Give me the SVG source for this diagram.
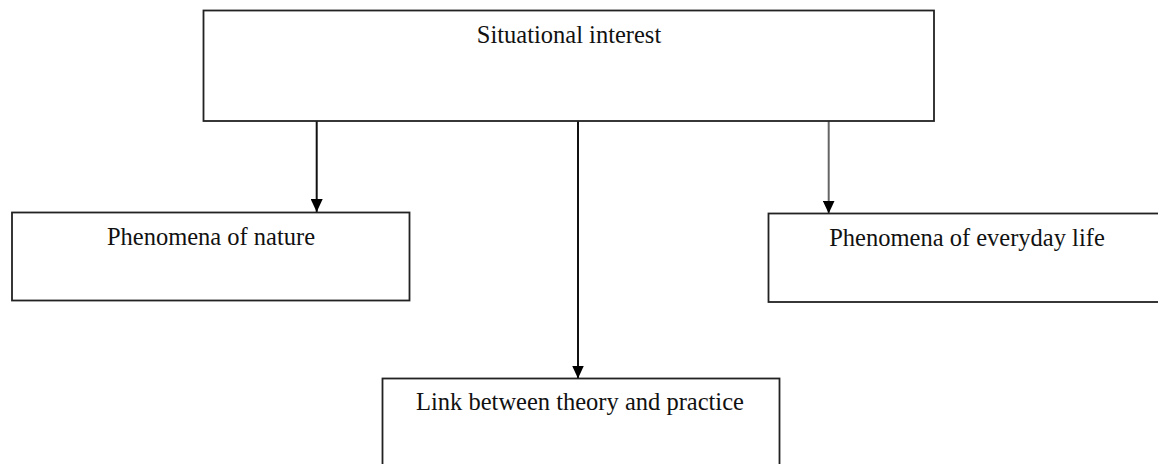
<svg xmlns="http://www.w3.org/2000/svg" width="1158" height="464" viewBox="0 0 1158 464">
<style>
.box{fill:#fff;stroke:#222;stroke-width:1.8}
.lbl{font-family:"Liberation Serif","Times New Roman",serif;font-size:24.5px;fill:#111;text-anchor:middle}
.edge{stroke:#111;stroke-width:2;fill:none}
</style>
<defs>
<marker id="ah" markerWidth="13" markerHeight="12" refX="13" refY="6" orient="auto" markerUnits="userSpaceOnUse">
<path d="M0,0 L13,6 L0,12 Z" fill="#000"/>
</marker>
</defs>
<rect width="1158" height="464" fill="#fff"/>
<g id="connectors">
<line class="edge" x1="316.7" y1="121" x2="316.7" y2="212" marker-end="url(#ah)"/>
<line class="edge" x1="578" y1="121" x2="578" y2="378.5" marker-end="url(#ah)"/>
<line class="edge" x1="828.7" y1="121" x2="828.7" y2="213.5" marker-end="url(#ah)" style="stroke:#666"/>
</g>
<g id="situational">
<rect class="box" x="203.5" y="10.5" width="730.5" height="110.5"/>
<text class="lbl" x="569" y="43">Situational interest</text>
</g>
<g id="nature">
<rect class="box" x="12" y="212.5" width="397.5" height="88"/>
<text class="lbl" x="211" y="245">Phenomena of nature</text>
</g>
<g id="everyday">
<rect class="box" x="768.5" y="213.5" width="400" height="88.5"/>
<text class="lbl" x="967" y="246">Phenomena of everyday life</text>
</g>
<g id="link">
<rect class="box" x="382.5" y="378.5" width="397" height="100"/>
<text class="lbl" x="580" y="410">Link between theory and practice</text>
</g>
</svg>
